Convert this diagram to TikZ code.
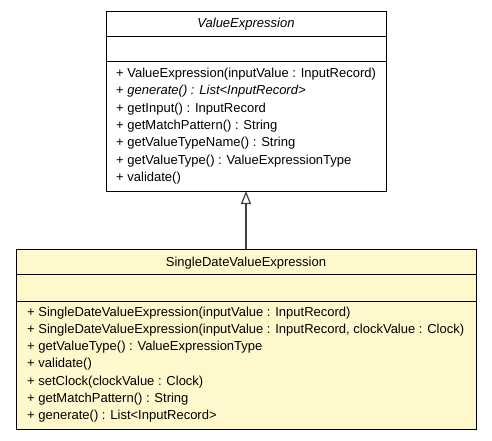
\documentclass[tikz,border=0pt]{standalone}
\usepackage{fontspec}
\setmainfont{Liberation Sans}
\usetikzlibrary{arrows.meta}
\definecolor{classfill}{HTML}{FFF8CD}
\definecolor{edgegray}{HTML}{404040}
\begin{document}
\begin{tikzpicture}[x=1pt,y=-1pt,
  classbox/.style={draw=black, line width=0.9pt, rectangle, inner sep=0pt, outer sep=0pt, anchor=north west},
  divider/.style={draw=black, line width=0.9pt},
  optext/.style={anchor=base west, inner sep=0pt, font=\fontsize{13}{15}\selectfont},
  titletext/.style={anchor=base, inner sep=0pt, font=\fontsize{13}{15}\selectfont},
  inherit/.style={draw=edgegray, line width=1.2pt, -{Triangle[open, width=10pt, length=13pt]}}]
\useasboundingbox (0,0) rectangle (492,440);
% ValueExpression
\node[classbox, fill=white, minimum width=280pt, minimum height=180pt] (ve) at (106,11) {};
\draw[divider] (106,36) -- (386,36);
\draw[divider] (106,61) -- (386,61);
\node[titletext] (vetitle) at (246,27.5) {\itshape ValueExpression};
\node[optext] (ve1) at (116,77.5) {+ ValueExpression(inputValue : InputRecord)};
\node[optext] (ve2) at (116,94.8) {+ \textit{generate() : List<InputRecord>}};
\node[optext] (ve3) at (116,112.1) {+ getInput() : InputRecord};
\node[optext] (ve4) at (116,129.4) {+ getMatchPattern() : String};
\node[optext] (ve5) at (116,146.7) {+ getValueTypeName() : String};
\node[optext] (ve6) at (116,164.0) {+ getValueType() : ValueExpressionType};
\node[optext] (ve7) at (116,181.3) {+ validate()};
% SingleDateValueExpression
\node[classbox, fill=classfill, minimum width=460pt, minimum height=180pt] (sd) at (16,249) {};
\draw[divider] (16,274.5) -- (476,274.5);
\draw[divider] (16,301) -- (476,301);
\node[titletext] (sdtitle) at (246,266.5) {SingleDateValueExpression};
\node[optext] (sd1) at (27,316) {+ SingleDateValueExpression(inputValue : InputRecord)};
\node[optext] (sd2) at (27,333.3) {+ SingleDateValueExpression(inputValue : InputRecord, clockValue : Clock)};
\node[optext] (sd3) at (27,350.6) {+ getValueType() : ValueExpressionType};
\node[optext] (sd4) at (27,367.9) {+ validate()};
\node[optext] (sd5) at (27,385.2) {+ setClock(clockValue : Clock)};
\node[optext] (sd6) at (27,402.5) {+ getMatchPattern() : String};
\node[optext] (sd7) at (27,419.8) {+ generate() : List<InputRecord>};
% generalization
\draw[inherit] (sd.north) -- (ve.south);
\end{tikzpicture}
\end{document}
